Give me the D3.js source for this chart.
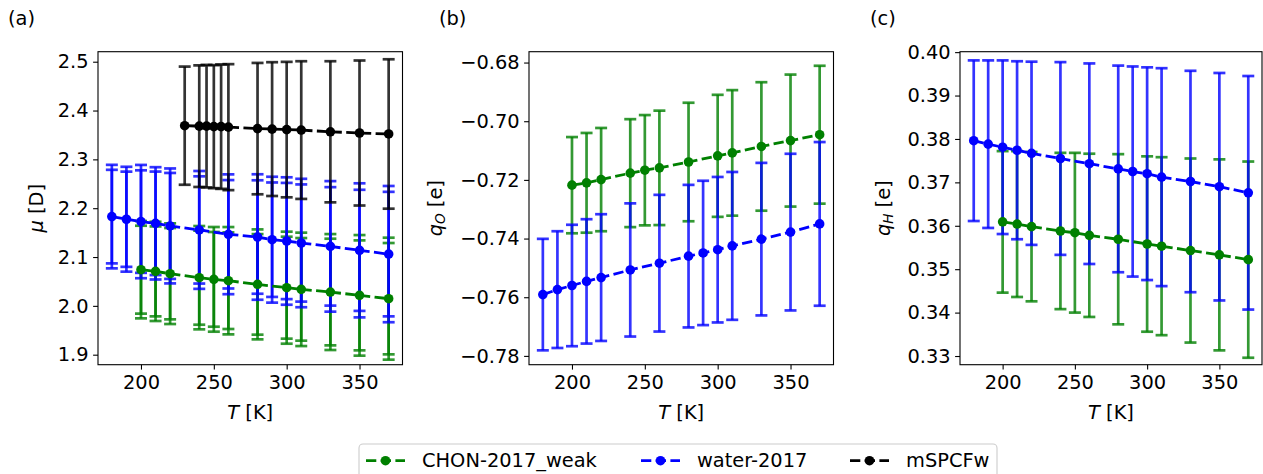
<!DOCTYPE html>
<html><head><meta charset="utf-8">
<script src="https://cdn.jsdelivr.net/npm/d3@7"></script>
<style>
html,body{margin:0;padding:0;background:#fff;}
svg{display:block;font-family:"DejaVu Sans",sans-serif;}
</style></head><body>
<svg id="chart" width="1263" height="474"></svg>
<script>
// ---------------- data ----------------
const seriesNames = ["CHON-2017_weak", "water-2017", "mSPCFw"];
const seriesColors = ["#008000", "#0000ff", "#000000"];

const tempsCHON = [200,210,220,240,250,260,280,300,310,330,350,370];
const tempsWater = [180,190,200,210,220,240,260,280,290,300,310,330,350,370];
const tempsMSPCFw = [230,240,245,250,255,260,280,290,300,310,330,350,370];

// (a) dipole moment [D]
const muCHON = [2.0741,2.0706,2.0659,2.0577,2.0543,2.0515,2.0440,2.0372,2.0338,2.0283,2.0215,2.0147];
const muCHONErrInner = [0.0900,0.0921,0.0935,0.0963,0.0970,0.0989,0.1030,0.1044,0.1051,0.1092,0.1126,0.1140];
const muCHONErrOuter = [0.0997,0.1016,0.1031,0.1058,0.1072,0.1099,0.1126,0.1147,0.1161,0.1187,0.1235,0.1249];
const muWater = [2.1828,2.1774,2.1726,2.1690,2.1637,2.1555,2.1466,2.1410,2.1355,2.1328,2.1287,2.1218,2.1137,2.1060];
const muWaterErrInner = [0.0958,0.0975,0.1050,0.1060,0.1085,0.1098,0.1110,0.1162,0.1172,0.1190,0.1200,0.1213,0.1240,0.1275];
const muWaterErrOuter = [0.1060,0.1074,0.1160,0.1150,0.1177,0.1207,0.1227,0.1285,0.1289,0.1305,0.1315,0.1337,0.1373,0.1395];
const muMSPCFw = [2.369,2.368,2.368,2.367,2.367,2.366,2.363,2.362,2.361,2.360,2.3565,2.354,2.352];
const muMSPCFwErr = [0.121,0.1245,0.1255,0.126,0.1274,0.129,0.1345,0.137,0.1387,0.141,0.1445,0.1485,0.153];

// (b) oxygen charge [e]
const qoCHON = [-0.7218,-0.7210,-0.7199,-0.7177,-0.7167,-0.7159,-0.7139,-0.7118,-0.7108,-0.7086,-0.7066,-0.7046];
const qoCHONErr = [0.0164,0.0170,0.0176,0.0184,0.0188,0.0195,0.0202,0.0208,0.0214,0.0219,0.0225,0.0235];
const qoWater = [-0.7591,-0.7574,-0.7560,-0.7546,-0.7533,-0.7507,-0.7484,-0.7460,-0.7449,-0.7438,-0.7425,-0.7402,-0.7378,-0.7350];
const qoWaterErr = [0.0190,0.0199,0.0207,0.0212,0.0216,0.0227,0.0233,0.0243,0.0246,0.0248,0.0252,0.0260,0.0267,0.0279];

// (c) hydrogen charge [e]
const qhCHON = [0.3609,0.3604,0.3598,0.3588,0.3584,0.3578,0.3569,0.3558,0.3553,0.3543,0.3533,0.3522];
const qhCHONErr = [0.0163,0.0168,0.0172,0.0180,0.0184,0.0188,0.0196,0.0202,0.0205,0.0212,0.0220,0.0226];
const qhWater = [0.3796,0.3788,0.3781,0.3774,0.3767,0.3755,0.3743,0.3731,0.3725,0.3720,0.3712,0.3702,0.3690,0.3676];
const qhWaterErr = [0.0185,0.0193,0.0200,0.0205,0.0211,0.0222,0.0231,0.0238,0.0242,0.0245,0.0251,0.0255,0.0262,0.0269];

const xTicks = [200,250,300,350];
const muTicks = [1.9,2.0,2.1,2.2,2.3,2.4,2.5];
const qoTicks = [-0.78,-0.76,-0.74,-0.72,-0.70,-0.68];
const qhTicks = [0.33,0.34,0.35,0.36,0.37,0.38,0.39,0.40];
const panelLabels = ["(a)","(b)","(c)"];

// ---------------- layout ----------------
const svg = d3.select("#chart");
const FS = 19.4;
const TOP = 51.7, BOTTOM = 364.7;
const xDomain = [170.5, 379.5];

const panels = [
  { label: panelLabels[0], left: 98, right: 402.5, yDomain: [1.8795, 2.5205], yTicks: muTicks, fmt: d3.format(".1f"),
    ylab: [{t:"μ", it:true}, {t:" [D]"}], ylabX: 43, labX: 8,
    series: [
      {c: 0, T: tempsCHON, v: muCHON, errs: [muCHONErrOuter, muCHONErrInner]},
      {c: 1, T: tempsWater, v: muWater, errs: [muWaterErrOuter, muWaterErrInner]},
      {c: 2, T: tempsMSPCFw, v: muMSPCFw, errs: [muMSPCFwErr]}
    ]},
  { label: panelLabels[1], left: 529, right: 833.5, yDomain: [-0.7830, -0.6763], yTicks: qoTicks, fmt: d3.format(".2f"),
    ylab: [{t:"q", it:true}, {t:"O", it:true, sub:true}, {t:" [e]"}], ylabX: 442, labX: 439,
    series: [
      {c: 0, T: tempsCHON, v: qoCHON, errs: [qoCHONErr]},
      {c: 1, T: tempsWater, v: qoWater, errs: [qoWaterErr]}
    ]},
  { label: panelLabels[2], left: 960, right: 1262, yDomain: [0.3280, 0.4001], yTicks: qhTicks, fmt: d3.format(".2f"),
    ylab: [{t:"q", it:true}, {t:"H", it:true, sub:true}, {t:" [e]"}], ylabX: 890, labX: 870,
    series: [
      {c: 0, T: tempsCHON, v: qhCHON, errs: [qhCHONErr]},
      {c: 1, T: tempsWater, v: qhWater, errs: [qhWaterErr]}
    ]}
];

const CAP = 6, ELW = 2.7, LW = 2.8, MR = 4.8, EALPHA = 0.8;

panels.forEach(p => {
  const x = d3.scaleLinear().domain(xDomain).range([p.left, p.right]);
  const y = d3.scaleLinear().domain(p.yDomain).range([BOTTOM, TOP]);
  const g = svg.append("g");

  // error bars first
  p.series.forEach(s => {
    const col = seriesColors[s.c];
    s.errs.forEach(err => {
      s.T.forEach((t, i) => {
        const cx = x(t), lo = y(s.v[i] - err[i]), hi = y(s.v[i] + err[i]);
        g.append("line").attr("x1", cx).attr("x2", cx).attr("y1", lo).attr("y2", hi)
          .attr("stroke", col).attr("stroke-opacity", EALPHA).attr("stroke-width", ELW);
        [lo, hi].forEach(yy => {
          g.append("line").attr("x1", cx - CAP).attr("x2", cx + CAP).attr("y1", yy).attr("y2", yy)
            .attr("stroke", col).attr("stroke-opacity", EALPHA).attr("stroke-width", ELW);
        });
      });
    });
  });

  // lines and markers
  p.series.forEach(s => {
    const col = seriesColors[s.c];
    const pts = s.T.map((t, i) => [t, s.v[i]]);
    g.append("path").attr("d", d3.line().x(d => x(d[0])).y(d => y(d[1]))(pts))
      .attr("fill", "none").attr("stroke", col).attr("stroke-width", LW)
      .attr("stroke-dasharray", "10.3,4.4");
    g.selectAll(null).data(pts).enter().append("circle")
      .attr("cx", d => x(d[0])).attr("cy", d => y(d[1])).attr("r", MR).attr("fill", col);
  });

  // axes
  const xAxis = d3.axisBottom(x).tickValues(xTicks).tickSize(4.9).tickPadding(4.5).tickFormat(d3.format("d"));
  const yAxis = d3.axisLeft(y).tickValues(p.yTicks).tickSize(4.9).tickPadding(4.5).tickFormat(p.fmt);
  const gx = svg.append("g").attr("transform", `translate(0,${BOTTOM})`).call(xAxis);
  const gy = svg.append("g").attr("transform", `translate(${p.left},0)`).call(yAxis);
  [gx, gy].forEach(a => {
    a.select(".domain").remove();
    a.selectAll(".tick line").attr("stroke", "#000").attr("stroke-width", 1.1);
    a.selectAll(".tick text").attr("fill", "#000").style("font-size", FS + "px")
      .style("font-family", "'DejaVu Sans', sans-serif");
  });
  gx.selectAll(".tick text").attr("dy", "0.78em");

  // frame
  svg.append("rect").attr("x", p.left).attr("y", TOP).attr("width", p.right - p.left).attr("height", BOTTOM - TOP)
    .attr("fill", "none").attr("stroke", "#000").attr("stroke-width", 1.1);

  // x label
  const xl = svg.append("text").attr("x", (p.left + p.right) / 2).attr("y", 419)
    .attr("text-anchor", "middle").style("font-size", FS + "px");
  xl.append("tspan").attr("font-style", "italic").text("T");
  xl.append("tspan").text(" [K]");

  // y label
  const yl = svg.append("text").attr("transform", `translate(${p.ylabX},${(TOP + BOTTOM) / 2}) rotate(-90)`)
    .attr("text-anchor", "middle").style("font-size", FS + "px");
  p.ylab.forEach(part => {
    const ts = yl.append("tspan").text(part.t);
    if (part.it) ts.attr("font-style", "italic");
    if (part.sub) ts.attr("baseline-shift", "-22%").style("font-size", (FS * 0.7) + "px");
  });

  // panel label
  svg.append("text").attr("x", p.labX).attr("y", 25).style("font-size", FS + "px").text(p.label);
});

// ---------------- legend ----------------
const legend = svg.append("g");
legend.append("rect").attr("x", 359).attr("y", 444).attr("width", 638).attr("height", 50)
  .attr("rx", 4).attr("fill", "#fff").attr("fill-opacity", 0.8).attr("stroke", "#cccccc").attr("stroke-width", 1.1);
const legendHandleX = [366, 641, 850];
seriesNames.forEach((name, i) => {
  const hx = legendHandleX[i], hy = 460.7;
  legend.append("line").attr("x1", hx).attr("x2", hx + 39).attr("y1", hy).attr("y2", hy)
    .attr("stroke", seriesColors[i]).attr("stroke-width", LW).attr("stroke-dasharray", "10.3,4.4");
  legend.append("circle").attr("cx", hx + 19.5).attr("cy", hy).attr("r", MR).attr("fill", seriesColors[i]);
  legend.append("text").attr("x", hx + 56).attr("y", 467).style("font-size", FS + "px").attr("fill", "#000").text(name);
});
</script>
</body></html>
